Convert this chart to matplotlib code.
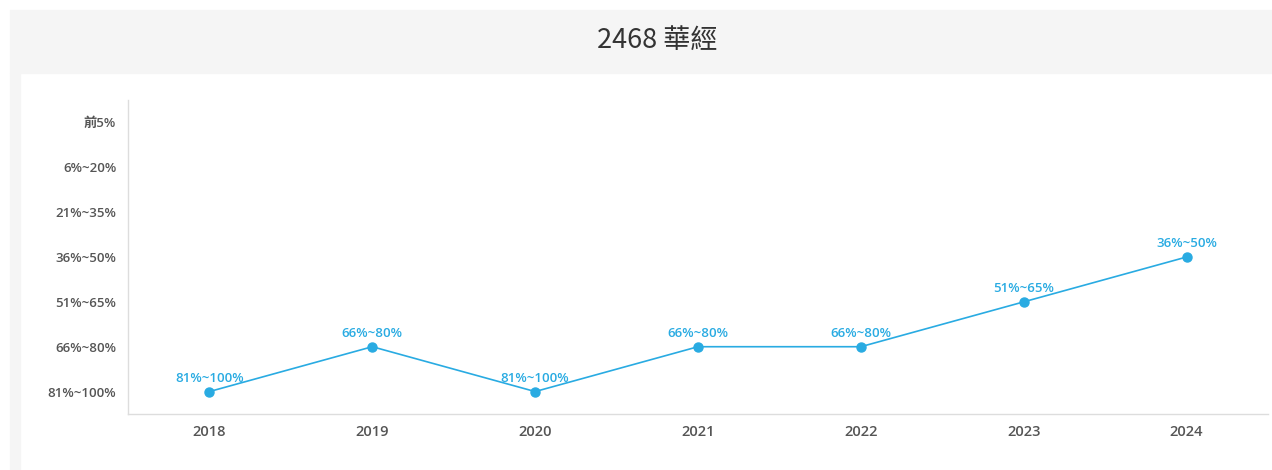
import matplotlib.pyplot as plt
from matplotlib.patches import Rectangle

plt.rcParams['font.family'] = ['Open Sans', 'Noto Sans CJK TC', 'DejaVu Sans']

years = ['2018', '2019', '2020', '2021', '2022', '2023', '2024']
levels = ['81%~100%', '66%~80%', '51%~65%', '36%~50%', '21%~35%', '6%~20%', '前5%']
ranks = ['81%~100%', '66%~80%', '81%~100%', '66%~80%', '66%~80%', '51%~65%', '36%~50%']

W, H = 1272, 470
blue = '#29abe2'
tick_col = '#555555'

fig = plt.figure(figsize=(W / 100, H / 100), dpi=100)
fig.patch.set_facecolor('white')

# grey header band and left strip
fig.patches.append(Rectangle((10 / W, (H - 73) / H), (W - 10) / W, 63 / H,
                             transform=fig.transFigure, color='#f5f5f5', zorder=0))
fig.patches.append(Rectangle((10 / W, 0), 10 / W, (H - 73) / H,
                             transform=fig.transFigure, color='#f5f5f5', zorder=0))
fig.text(657 / W, (H - 40) / H, '2468 華經', ha='center', va='center',
         fontsize=19.5, color='#333333', family=['Noto Sans CJK TC', 'DejaVu Sans'])

ax = fig.add_axes([128 / W, (H - 414) / H, 1140 / W, 314 / H])
x = list(range(len(years)))
y = [levels.index(r) for r in ranks]
ax.plot(x, y, color=blue, lw=1.2, marker='o', markersize=6.5, zorder=3, clip_on=False)
for xi, yi, r in zip(x, y, ranks):
    ax.annotate(r, (xi, yi), xytext=(0, 5), textcoords='offset points',
                ha='center', va='bottom', color=blue, fontsize=9.5, fontweight='semibold')

ax.set_xlim(-0.5, len(years) - 0.5)
ax.set_ylim(-0.5, len(levels) - 0.5)
ax.set_xticks(x)
ax.set_xticklabels(years)
ax.set_yticks(range(len(levels)))
ax.set_yticklabels(levels)
ax.tick_params(axis='both', length=0, colors=tick_col, labelsize=9.5)
ax.tick_params(axis='x', pad=8, labelsize=10.5)
ax.tick_params(axis='y', pad=8.5)
for lab in ax.get_xticklabels() + ax.get_yticklabels():
    lab.set_fontweight('semibold')
for s in ['top', 'right']:
    ax.spines[s].set_visible(False)
for s in ['left', 'bottom']:
    ax.spines[s].set_color('#dddddd')
    ax.spines[s].set_linewidth(1)

fig.savefig('out.png', dpi=100)
